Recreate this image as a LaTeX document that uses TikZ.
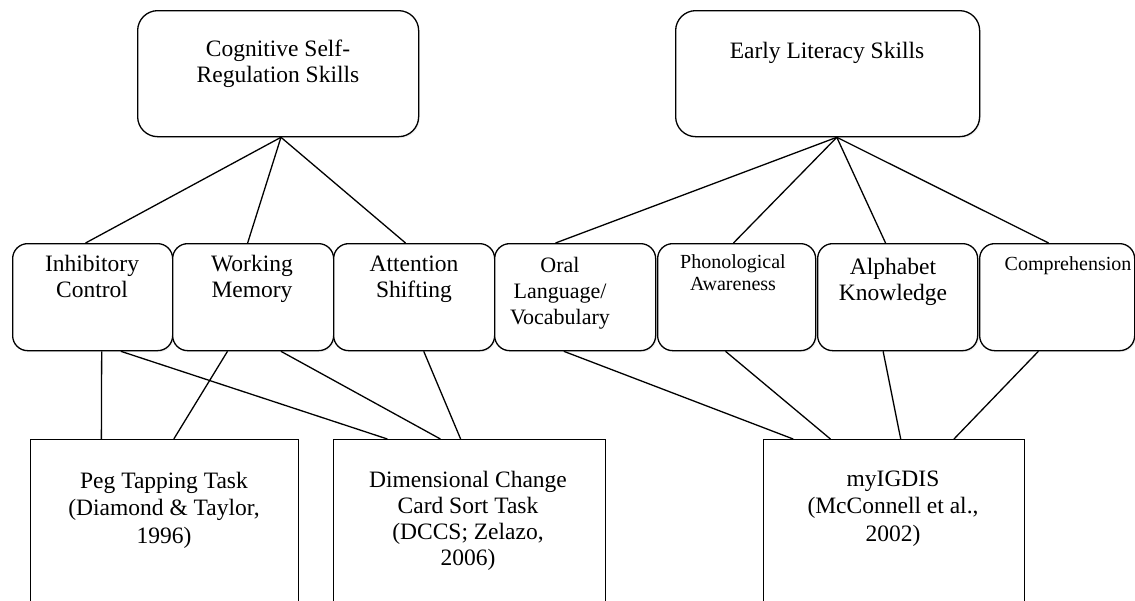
\documentclass[tikz,border=0pt]{standalone}
\usepackage{fontspec}
\setmainfont{Liberation Serif}
\usetikzlibrary{calc,shadows}
\begin{document}
\begin{tikzpicture}[x=1pt,y=-1pt,
  lw/.style={line width=1.3pt},
  rbox/.style={draw, lw, rounded corners=15pt, anchor=north west, inner sep=0pt, fill=white,
    drop shadow={opacity=0.12,shadow xshift=1.2pt,shadow yshift=-1.5pt}},
  sbox/.style={draw, lw, anchor=north west, inner sep=0pt, fill=white},
  conn/.style={lw},
  txt/.style={anchor=base, align=center, inner sep=0pt, font=\fontsize{23.5}{26}\selectfont},
  btxt/.style={txt, font=\fontsize{23.5}{27.5}\selectfont},
  stxt/.style={txt, font=\fontsize{20}{22}\selectfont}
]
\clip (0,0) rectangle (1135,600);
\fill[white] (0,0) rectangle (1135,600);

% top boxes
\node[rbox, rounded corners=20pt, minimum width=281pt, minimum height=126pt] (cog) at (137,10) {};
\node[rbox, rounded corners=20pt, minimum width=304pt, minimum height=126pt] (lit) at (675,10) {};

% middle boxes
\node[rbox, minimum width=160pt, minimum height=107pt] (inh) at (12,243) {};
\node[rbox, minimum width=161pt, minimum height=107pt] (wm) at (172,243) {};
\node[rbox, minimum width=161pt, minimum height=107pt] (att) at (333,243) {};
\node[rbox, minimum width=161pt, minimum height=107pt] (oral) at (494,243) {};
\node[rbox, minimum width=158pt, minimum height=107pt] (phon) at (657,243) {};
\node[rbox, minimum width=160pt, minimum height=107pt] (alph) at (817,243) {};
\node[rbox, minimum width=155pt, minimum height=107pt] (comp) at (979,243) {};

% bottom boxes
\node[sbox, minimum width=268pt, minimum height=220pt] (peg) at (30,439) {};
\node[sbox, minimum width=272pt, minimum height=220pt] (dccs) at (333,439) {};
\node[sbox, minimum width=261pt, minimum height=220pt] (myi) at (763,439) {};

% texts (anchor = baseline of last line)
\node[txt] (tcog) at (278,82) {Cognitive Self-\\Regulation Skills};
\node[txt] (tlit) at (827,58) {Early Literacy Skills};
\node[txt] (tinh) at (92,297) {Inhibitory\\Control};
\node[txt] (twm) at (252,297) {Working\\Memory};
\node[txt] (tatt) at (414,297) {Attention\\Shifting};
\node[txt, font=\fontsize{22}{26}\selectfont] (toral) at (560,324) {Oral\\Language/\\Vocabulary};
\node[stxt] (tphon) at (733,290) {Phonological\\Awareness};
\node[txt] (talph) at (893,300) {Alphabet\\Knowledge};
\node[stxt] (tcomp) at (1068,270) {Comprehension};
\node[btxt] (tpeg) at (164,543) {Peg Tapping Task\\(Diamond \& Taylor,\\1996)};
\node[txt] (tdccs) at (468,565) {Dimensional Change\\Card Sort Task\\(DCCS; Zelazo,\\2006)};
\node[btxt] (tmyi) at (893,541) {myIGDIS\\(McConnell et al.,\\2002)};

% connectors top
\draw[conn] ($(cog.south west)!0.51!(cog.south east)$) -- ($(inh.north west)!0.456!(inh.north east)$);
\draw[conn] ($(cog.south west)!0.51!(cog.south east)$) -- ($(wm.north west)!0.466!(wm.north east)$);
\draw[conn] ($(cog.south west)!0.51!(cog.south east)$) -- ($(att.north west)!0.447!(att.north east)$);
\draw[conn] ($(lit.south west)!0.53!(lit.south east)$) -- ($(oral.north west)!0.379!(oral.north east)$);
\draw[conn] ($(lit.south west)!0.53!(lit.south east)$) -- ($(phon.north west)!0.48!(phon.north east)$);
\draw[conn] ($(lit.south west)!0.53!(lit.south east)$) -- ($(alph.north west)!0.425!(alph.north east)$);
\draw[conn] ($(lit.south west)!0.53!(lit.south east)$) -- ($(comp.north west)!0.445!(comp.north east)$);

% connectors bottom
\draw[conn] ($(inh.south west)!0.556!(inh.south east)$) -- ($(peg.north west)!0.265!(peg.north east)$);
\draw[conn] ($(inh.south west)!0.675!(inh.south east)$) -- ($(dccs.north west)!0.199!(dccs.north east)$);
\draw[conn] ($(wm.south west)!0.342!(wm.south east)$) -- ($(peg.north west)!0.534!(peg.north east)$);
\draw[conn] ($(wm.south west)!0.671!(wm.south east)$) -- ($(dccs.north west)!0.393!(dccs.north east)$);
\draw[conn] ($(att.south west)!0.559!(att.south east)$) -- ($(dccs.north west)!0.467!(dccs.north east)$);
\draw[conn] ($(oral.south west)!0.43!(oral.south east)$) -- ($(myi.north west)!0.115!(myi.north east)$);
\draw[conn] ($(phon.south west)!0.43!(phon.south east)$) -- ($(myi.north west)!0.257!(myi.north east)$);
\draw[conn] ($(alph.south west)!0.41!(alph.south east)$) -- ($(myi.north west)!0.525!(myi.north east)$);
\draw[conn] ($(comp.south west)!0.38!(comp.south east)$) -- ($(myi.north west)!0.728!(myi.north east)$);
\end{tikzpicture}
\end{document}
